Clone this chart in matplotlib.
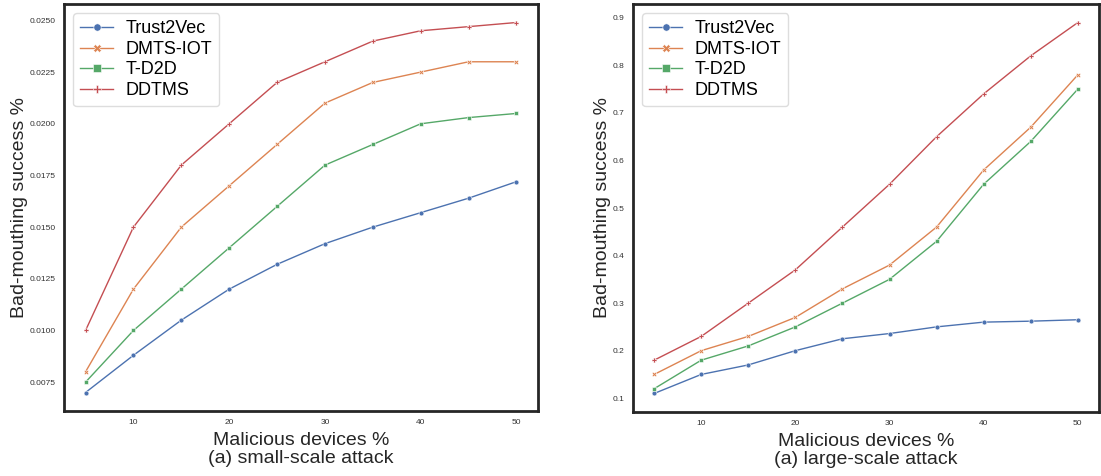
import matplotlib
matplotlib.use("Agg")
from matplotlib import pyplot as plt
import numpy as np

plt.rcParams['font.family'] = ['Liberation Sans', 'DejaVu Sans']

x = [5, 10, 15, 20, 25, 30, 35, 40, 45, 50]
methods = ["Trust2Vec", "DMTS-IOT", "T-D2D", "DDTMS"]

small_trust2vec = [0.0070, 0.0088, 0.0105, 0.0120, 0.0132, 0.0142, 0.0150, 0.0157, 0.0164, 0.0172]
small_dmts = [0.0080, 0.0120, 0.0150, 0.0170, 0.0190, 0.0210, 0.0220, 0.0225, 0.0230, 0.0230]
small_td2d = [0.0075, 0.0100, 0.0120, 0.0140, 0.0160, 0.0180, 0.0190, 0.0200, 0.0203, 0.0205]
small_ddtms = [0.0100, 0.0150, 0.0180, 0.0200, 0.0220, 0.0230, 0.0240, 0.0245, 0.0247, 0.0249]

large_trust2vec = [0.11, 0.15, 0.17, 0.20, 0.225, 0.236, 0.25, 0.26, 0.262, 0.265]
large_dmts = [0.15, 0.20, 0.23, 0.27, 0.33, 0.38, 0.46, 0.58, 0.67, 0.78]
large_td2d = [0.12, 0.18, 0.21, 0.25, 0.30, 0.35, 0.43, 0.55, 0.64, 0.75]
large_ddtms = [0.18, 0.23, 0.30, 0.37, 0.46, 0.55, 0.65, 0.74, 0.82, 0.89]

colors = ["#4C72B0", "#DD8452", "#55A868", "#C44E52"]
markers = ["o", "X", "s", "P"]

fig = plt.figure(figsize=(11.01, 4.76), dpi=100)
ax1 = fig.add_axes([64 / 1101, 65 / 476, 474 / 1101, 407 / 476])
ax2 = fig.add_axes([633 / 1101, 64 / 476, 466 / 1101, 408 / 476])


def draw(ax, series, caption):
    for name, ys, c, m in zip(methods, series, colors, markers):
        ax.plot(x, ys, color=c, marker=m, markersize=3.5, markeredgecolor="white",
                markeredgewidth=0.4, linewidth=1.0, label=name)
    ax.set_xticks([10, 20, 30, 40, 50])
    ax.tick_params(labelsize=6, length=0, pad=6, colors="#333333")
    for s in ax.spines.values():
        s.set_linewidth(2)
        s.set_color("#262626")
    ax.set_xlabel("Malicious devices %\n" + caption, fontsize=14, color="#262626",
                  linespacing=1.1)
    ax.set_ylabel("Bad-mouthing success %", fontsize=14, color="#262626", labelpad=1)
    leg = ax.legend(loc="upper left", fontsize=13, markerscale=1.5, handlelength=1.8,
                    handletextpad=0.7, borderpad=0.4, labelspacing=0.2, framealpha=1)
    leg.get_frame().set_edgecolor("#dddddd")


draw(ax1, [small_trust2vec, small_dmts, small_td2d, small_ddtms], "(a) small-scale attack")
draw(ax2, [large_trust2vec, large_dmts, large_td2d, large_ddtms], "(a) large-scale attack")
ax1.set_yticks(np.arange(0.0075, 0.0251, 0.0025))
ax1.yaxis.set_major_formatter(matplotlib.ticker.FormatStrFormatter("%.4f"))
ax2.set_yticks(np.arange(0.1, 0.91, 0.1))
ax2.yaxis.set_major_formatter(matplotlib.ticker.FormatStrFormatter("%.1f"))

fig.savefig("out.png", dpi=100)
